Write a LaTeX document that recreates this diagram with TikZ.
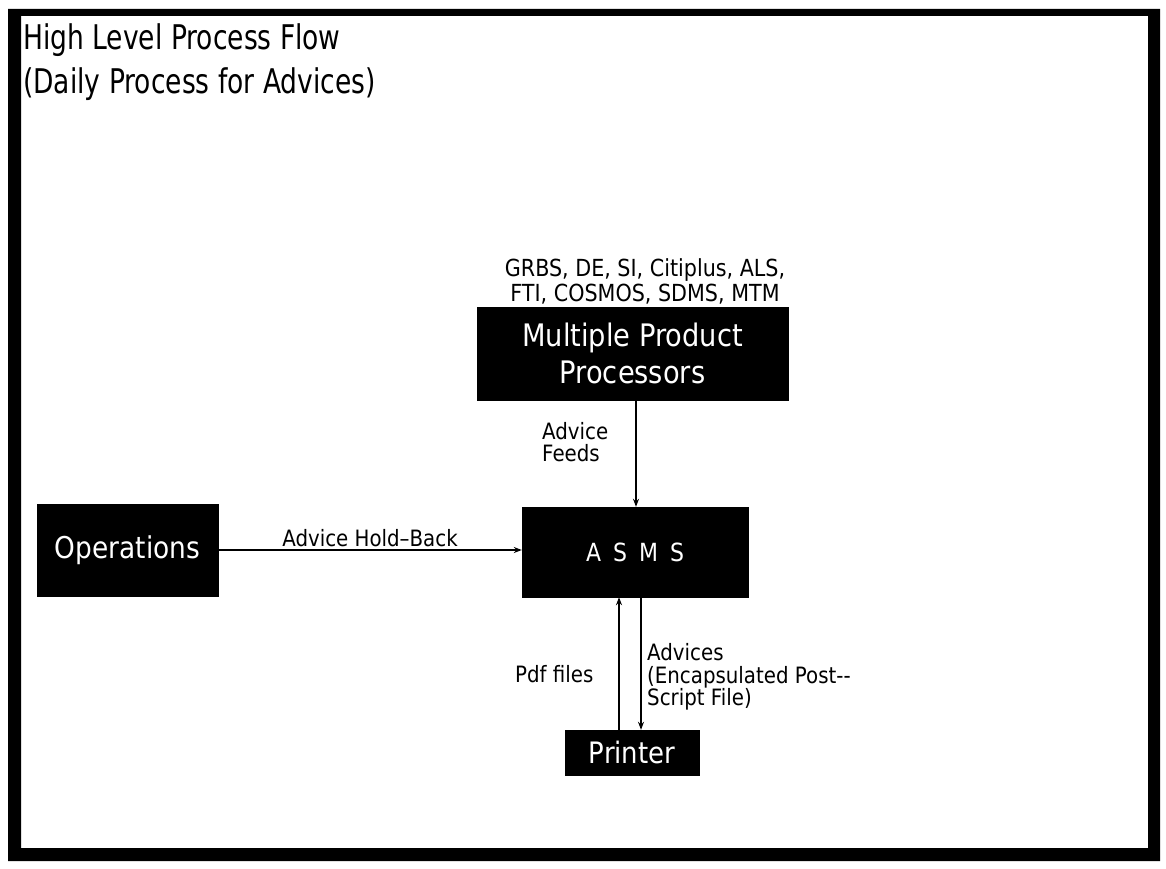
\documentclass[tikz,border=0pt]{standalone}
\usepackage{fontspec}
\setmainfont{DejaVu Sans}[FakeStretch=0.88]
\newfontfamily\headingfont{DejaVu Sans}[FakeStretch=0.78]
\usetikzlibrary{arrows.meta}
\begin{document}
\begin{tikzpicture}[x=1pt,y=-1pt,
  blackbox/.style={fill=black,draw=black,inner sep=0pt,text=white,align=center},
  flow/.style={draw=black,line width=1.2pt,-{Stealth[length=8pt,width=6pt]}},
  lbl/.style={inner sep=0pt,text=black,font=\fontsize{22.5}{22.5}\selectfont},
  heading/.style={anchor=base west,inner sep=0pt,font=\headingfont\fontsize{34}{40}\selectfont}]
% page and frame
\useasboundingbox (0,0) rectangle (1166,869);
\fill[white] (0,0) rectangle (1166,869);
\fill[black,even odd rule] (8,9) rectangle (1160,861) (21,16) rectangle (1148,848);
% title
\node[heading] (t1) at (23,50) {High Level Process Flow};
\node[heading] (t2) at (23,94) {(Daily Process for Advices)};
% boxes
\node[blackbox,minimum width=311pt,minimum height=93pt,font=\fontsize{31}{37}\selectfont] (mpp) at (632.5,353.5) {Multiple Product\\Processors};
\node[blackbox,minimum width=226pt,minimum height=90pt,font=\fontsize{25}{30}\selectfont] (asms) at (635,552) {A\hspace{12pt}S\hspace{12pt}M\hspace{12pt}S};
\node[blackbox,minimum width=181pt,minimum height=92pt,font=\fontsize{30}{36}\selectfont] (ops) at (127.5,550) {Operations};
\node[blackbox,minimum width=134pt,minimum height=45pt,font=\fontsize{29.5}{34}\selectfont] (prn) at (632,752.5) {Printer};
% source systems above the processors
\node[lbl,align=center,font=\fontsize{23.5}{25}\selectfont] (src) at (645,281) {GRBS, DE, SI, Citiplus, ALS,\\FTI, COSMOS, SDMS, MTM};
% connectors
\coordinate (fx) at (636,0);
\coordinate (pu) at (619,0);
\coordinate (pd) at (641,0);
\draw[flow] (mpp.south -| fx) -- (asms.north -| fx);
\draw[flow] (ops.east) -- (asms.west |- ops.east);
\draw[flow] (prn.north -| pu) -- (asms.south -| pu);
\draw[flow] (asms.south -| pd) -- (prn.north -| pd);
% connector labels
\node[lbl,align=left,anchor=west] (feeds) at (542,442) {Advice\\Feeds};
\node[lbl,anchor=base] (hold) at (370,546) {Advice Hold--Back};
\node[lbl,anchor=base west] (pdf) at (515,682) {Pdf files};
\node[lbl,align=left,anchor=west] (adv) at (647,677) {Advices\\(Encapsulated Post-{}-\\Script File)};
\end{tikzpicture}
\end{document}
